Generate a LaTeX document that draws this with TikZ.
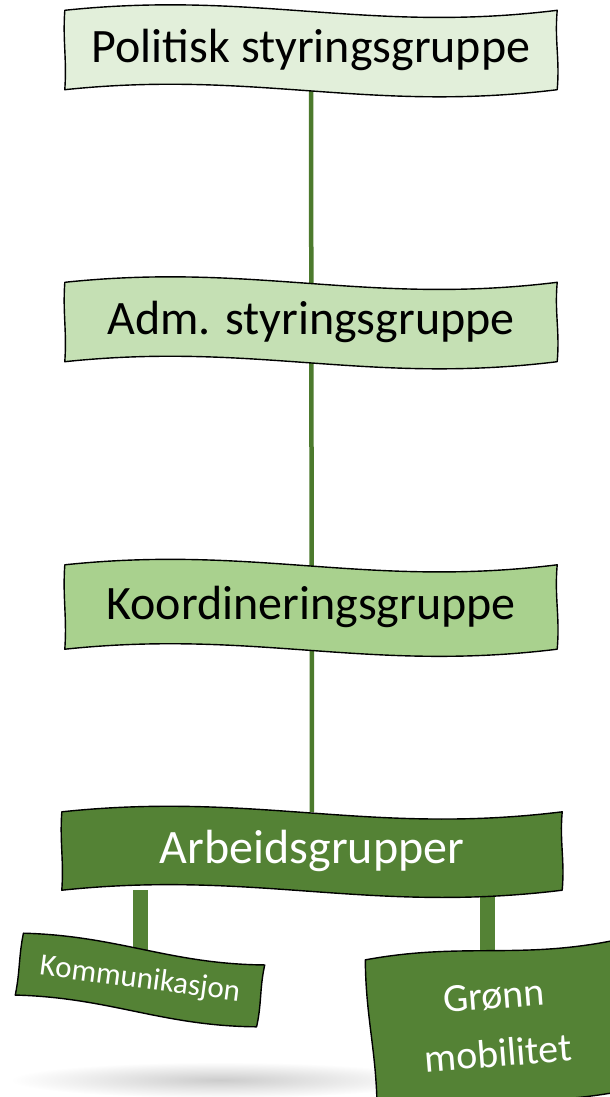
\documentclass[tikz,border=0pt]{standalone}
\usepackage{fontspec}
\setmainfont{Carlito}
\usetikzlibrary{backgrounds}
\definecolor{paleG}{HTML}{E2EFDA}
\definecolor{midG}{HTML}{C5E0B4}
\definecolor{softG}{HTML}{A9D18E}
\definecolor{darkG}{HTML}{548235}
\definecolor{stemG}{HTML}{4C7A2D}
% hand drawn outline round a node
\newcommand\wavybox[2]{%
  \filldraw[draw=black, line width=1.4pt, fill=#2, line join=round]
    (#1.north west) to[relative, out=6, in=187] (#1.north east)
    to[relative, out=-5, in=175] (#1.south east)
    to[relative, out=7, in=186] (#1.south west)
    to[relative, out=-4, in=176] (#1.north west) -- cycle;}
\begin{document}
\begin{tikzpicture}[
    x=1pt, y=-1pt,
    box/.style={minimum width=492pt, minimum height=79pt, inner sep=0pt,
      font=\fontsize{48}{54}\selectfont},
    sign/.style={box, text=white},
    stem/.style={draw=stemG, line width=4.5pt},
    bar/.style={draw=darkG, line width=15pt}
  ]
  \useasboundingbox (0,0) rectangle (610,1097);
  \node[box] (pol) at (311,50) {Politisk styringsgruppe};
  \node[box] (adm) at (311,322) {Adm. styringsgruppe};
  \node[box, minimum height=84pt] (koord) at (311,607) {Koordineringsgruppe};
  \node[sign, minimum width=500pt, minimum height=78pt] (arb) at (312,851) {Arbeidsgrupper};
  \node[sign, minimum width=243pt, minimum height=62pt, rotate=-7.5,
    font=\fontsize{31}{34}\selectfont] (kom) at (140,980) {Kommunikasjon};
  \node[sign, minimum width=250pt, minimum height=150pt, rotate=4.5,
    align=center, font=\fontsize{40}{58}\selectfont] (gronn) at (496,1025) {Grønn\\mobilitet};

  \begin{scope}[on background layer]
    \shade[inner color=black!20, outer color=white] (220,1080) ellipse (210 and 18);
    \draw[stem] (pol) -- (arb);
    \draw[bar] (arb.south -| kom.center) -- (kom.center);
    \draw[bar] (arb.south -| 487,0) -- (gronn.center -| 487,0);
    \wavybox{pol}{paleG}
    \wavybox{adm}{midG}
    \wavybox{koord}{softG}
    \wavybox{arb}{darkG}
    \wavybox{kom}{darkG}
    \wavybox{gronn}{darkG}
  \end{scope}
\end{tikzpicture}
\end{document}
